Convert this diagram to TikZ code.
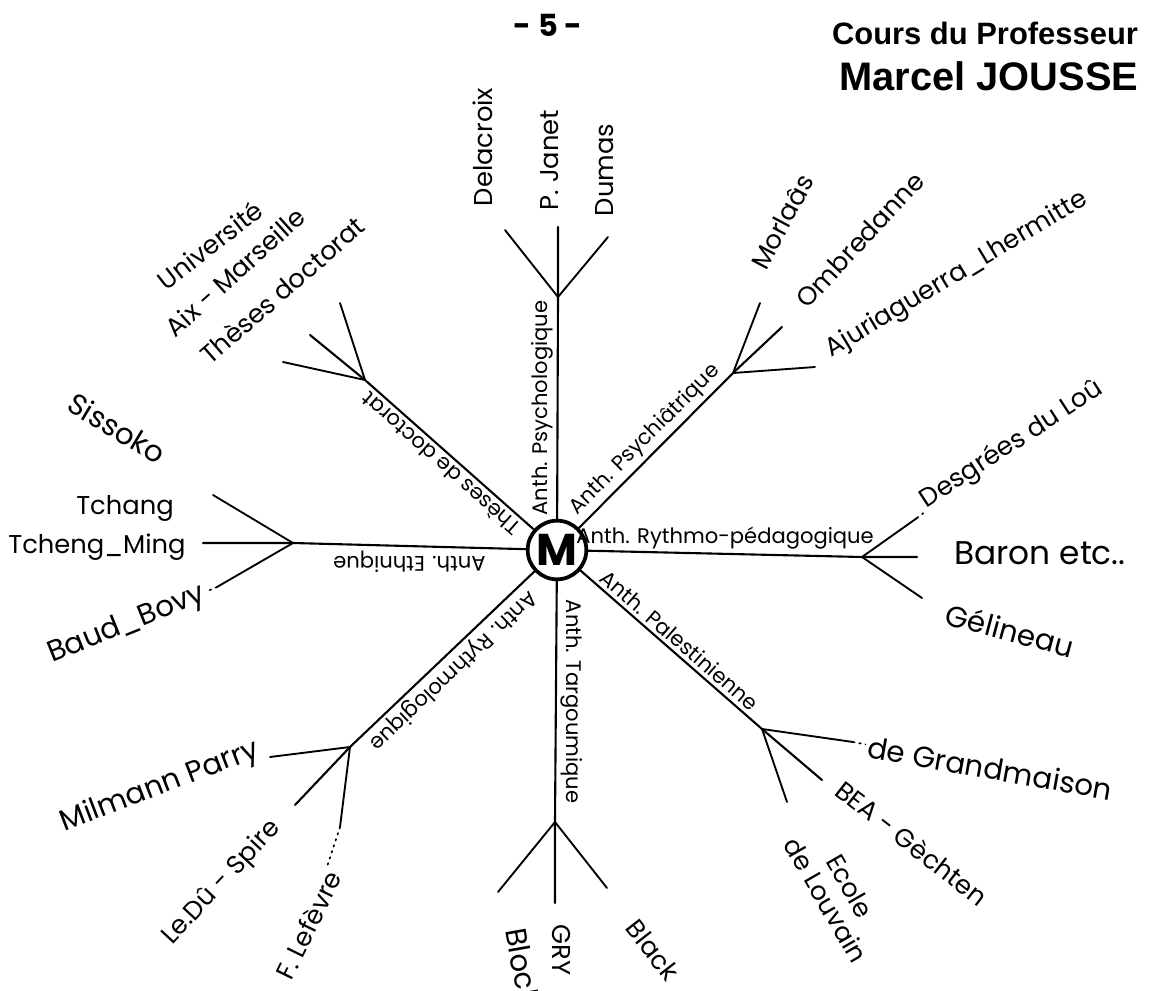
\documentclass[tikz,border=0pt]{standalone}
\usepackage{fontspec}
\setmainfont{Poppins}
\newfontfamily\stampfont{Liberation Sans}
\usetikzlibrary{positioning}

\begin{document}
\begin{tikzpicture}[x=0.15mm, y=-0.15mm, line cap=round,
  hub/.style={draw, circle, line width=1.6pt, minimum size=8.8mm, inner sep=0pt,
    font=\fontsize{19}{19}\selectfont\bfseries},
  spoke/.style={line width=0.9pt},
  twig/.style={line width=0.8pt},
  trail/.style={line width=0.7pt, dotted},
  anth/.style={anchor=south, inner sep=1.5pt, font=\fontsize{9}{10}\selectfont},
  person/.style={inner sep=1pt, font=\fontsize{11}{12}\selectfont},
  bigperson/.style={person, font=\fontsize{12.5}{13}\selectfont}]
  \useasboundingbox (0,0) rectangle (1151,991);

  % heading and stamp
  \node [font=\fontsize{13}{14}\selectfont\bfseries] (page) at (548,25) {- 5 -};
  \node [font=\stampfont\fontsize{13.2}{14}\selectfont\bfseries] (cours) at (985,33) {Cours du Professeur};
  \node [font=\stampfont\fontsize{17}{18}\selectfont\bfseries] (jousse) at (989,76) {Marcel JOUSSE};

  \node [hub] (hub) at (557,550) {M};

  % forks
  \coordinate (fN) at (558,297);
  \coordinate (fNE) at (733,373);
  \coordinate (fE) at (862,557);
  \coordinate (fSE) at (762,729);
  \coordinate (fS) at (555,822);
  \coordinate (fSW) at (350,747);
  \coordinate (fW) at (293,543);
  \coordinate (fNW) at (365,380);

  % twig ends
  \coordinate (tDelacroix) at (505,230);
  \coordinate (tJanet) at (558,227);
  \coordinate (tDumas) at (608,237);
  \coordinate (tMorlaas) at (760,303);
  \coordinate (tOmbredanne) at (782,327);
  \coordinate (tAjuria) at (815,367);
  \coordinate (tDesgrees) at (917,518);
  \coordinate (tBaron) at (917,557);
  \coordinate (tGelineau) at (922,598);
  \coordinate (tGrandmaison) at (853,742);
  \coordinate (tBea) at (822,780);
  \coordinate (tLouvain) at (787,802);
  \coordinate (tBloch) at (498,892);
  \coordinate (tGry) at (555,903);
  \coordinate (tBlack) at (607,888);
  \coordinate (tParry) at (270,757);
  \coordinate (tSpire) at (295,805);
  \coordinate (tLefevre) at (340,827);
  \coordinate (tTchang) at (213,495);
  \coordinate (tMing) at (203,543);
  \coordinate (tBovy) at (217,587);
  \coordinate (tUniv) at (340,303);
  \coordinate (tAix) at (310,335);
  \coordinate (tTheses) at (283,362);

  % spokes with their labels
  \draw [spoke] (hub) -- node [anth, rotate=90] (aPsycho) {Anth. Psychologique} (fN) -- (tJanet);
  \draw [spoke] (hub) -- node [anth, rotate=45] (aPsychia) {Anth. Psychiâtrique} (fNE) -- (tOmbredanne);
  \draw [spoke] (hub) -- node [anth] (aRythmo) {Anth. Rythmo-pédagogique} (fE) -- (tBaron);
  \draw [spoke] (hub) -- node [anth, rotate=-41] (aPalest) {Anth. Palestinienne} (fSE) -- (tBea);
  \draw [spoke] (hub) -- node [anth, rotate=-90] (aTargoum) {Anth. Targoumique} (fS) -- (tGry);
  \draw [spoke] (hub) -- node [anth, rotate=223.6] (aRythmolo) {Anth. Rythmologique} (fSW) -- (tSpire);
  \draw [spoke] (hub) -- node [anth, rotate=180] (aEthn) {Anth. Ethnique} (fW) -- (tMing);
  \draw [spoke] (hub) -- node [anth, rotate=138.5] (aTheses) {Thèses de doctorat} (fNW) -- (tAix);

  % side twigs
  \draw [twig] (tDelacroix) -- (fN) -- (tDumas);
  \draw [twig] (tMorlaas) -- (fNE) -- (tAjuria);
  \draw [twig] (tDesgrees) -- (fE) -- (tGelineau);
  \draw [twig] (tGrandmaison) -- (fSE) -- (tLouvain);
  \draw [twig] (tBloch) -- (fS) -- (tBlack);
  \draw [twig] (tParry) -- (fSW) -- (tLefevre);
  \draw [twig] (tTchang) -- (fW) -- (tBovy);
  \draw [twig] (tUniv) -- (fNW) -- (tTheses);

  % names
  \node [person, rotate=90] (delacroix) at (483,147) {Delacroix};
  \node [person, rotate=90] (janet) at (550,160) {P. Janet};
  \node [person, rotate=90] (dumas) at (605,170) {Dumas};
  \node [person, rotate=62] (morlaas) at (782,222) {Morlaâs};
  \node [person, rotate=47] (ombredanne) at (860,240) {Ombredanne};
  \node [person, rotate=31] (ajuria) at (957,275) {Ajuriaguerra\_Lhermitte};
  \node [person, rotate=33] (desgrees) at (1012,445) {Desgrées du Loû};
  \node [person, font=\fontsize{14}{15}\selectfont] (baron) at (1040,553) {Baron etc..};
  \node [bigperson, rotate=-15] (gelineau) at (1010,630) {Gélineau};
  \node [bigperson, rotate=-10] (grandmaison) at (990,768) {de Grandmaison};
  \node [person, rotate=-38] (bea) at (912,843) {BEA - Gèchten};
  \node [person, rotate=-60, align=center] (louvain) at (838,893) {Ecole\\de Louvain};
  \node [bigperson, rotate=-80] (bloch) at (523,968) {Bloch};
  \node [person, rotate=-90] (gry) at (562,950) {GRY};
  \node [person, rotate=-52] (black) at (653,950) {Black};
  \node [bigperson, rotate=21] (parry) at (160,787) {Milmann Parry};
  \node [person, rotate=47] (spire) at (222,883) {Le.Dû - Spire};
  \node [person, rotate=64] (lefevre) at (308,925) {F. Lefèvre};
  \node [person] (tchang) at (125,508) {Tchang};
  \node [person] (ming) at (97,547) {Tcheng\_Ming};
  \node [bigperson, rotate=22] (bovy) at (127,625) {Baud\_Bovy};
  \node [bigperson, rotate=-31] (sissoko) at (117,428) {Sissoko};
  \node [person, rotate=38] (univ) at (210,245) {Université};
  \node [person, rotate=42] (aix) at (235,272) {Aix - Marseille};
  \node [person, rotate=41] (theses) at (282,290) {Thèses doctorat};

  % dotted runs to the names
  \draw [trail] (tDesgrees) -- (desgrees);
  \draw [trail] (tGrandmaison) -- (grandmaison);
  \draw [trail] (tBovy) -- (bovy);
  \draw [trail] (tLefevre) -- (lefevre);
\end{tikzpicture}
\end{document}
